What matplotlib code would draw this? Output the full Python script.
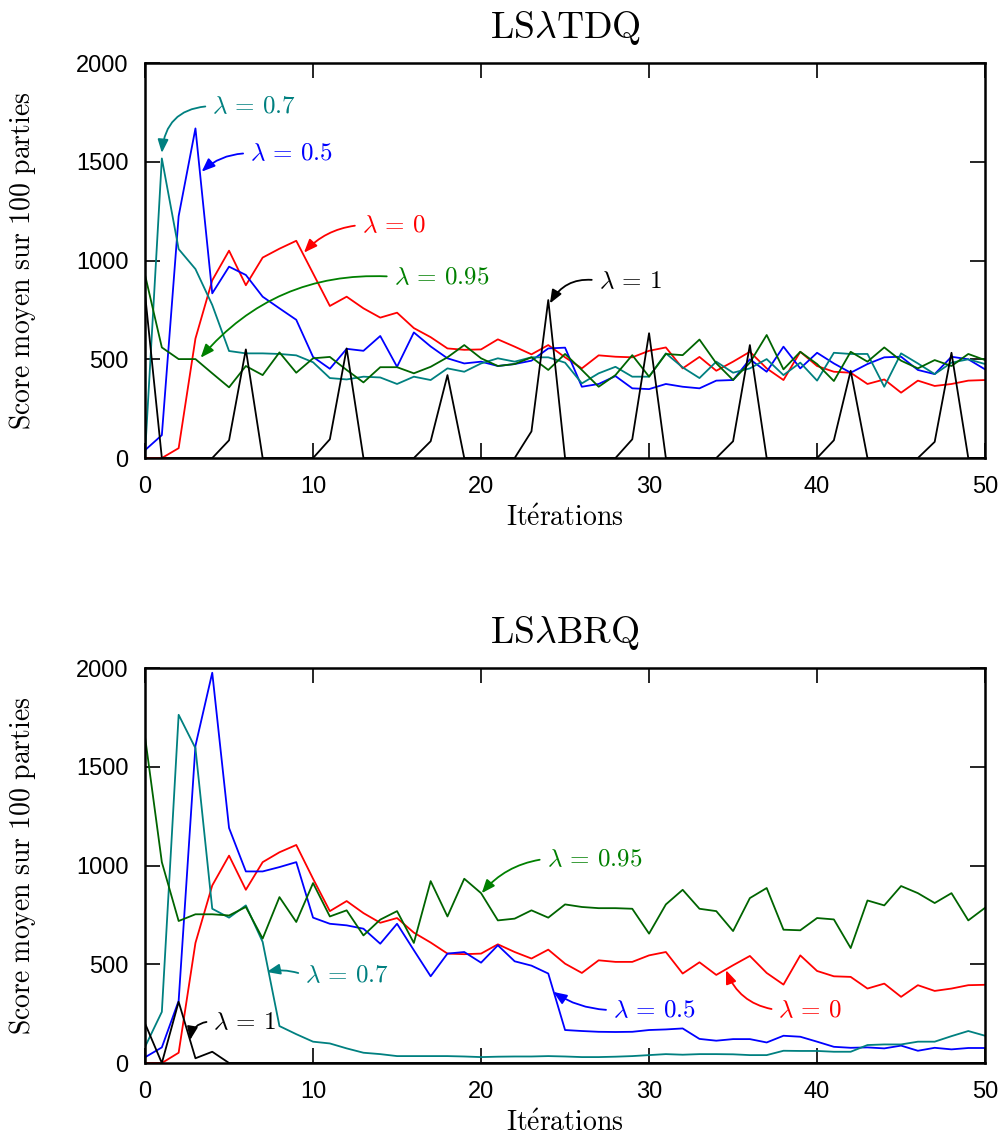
import matplotlib
matplotlib.use('Agg')
import matplotlib.pyplot as plt

plt.rcParams['font.family'] = ['Liberation Sans', 'DejaVu Sans']
plt.rcParams['mathtext.fontset'] = 'cm'

iterations = list(range(51))

# LSlambdaTDQ
tdq_l0 = [0, 0, 50, 605, 900, 1050, 875, 1015, 1060, 1100, 935, 770, 817, 758, 711, 736, 658, 612,
          555, 548, 550, 601, 564, 525, 572, 510, 454, 520, 513, 510, 543, 560, 454, 512, 442, 488,
          538, 454, 395, 538, 466, 437, 432, 375, 398, 331, 392, 365, 375, 392, 395]
tdq_l05 = [40, 116, 1225, 1669, 834, 969, 927, 817, 758, 700, 512, 452, 553, 543, 618, 462, 636, 565,
           505, 479, 488, 466, 476, 493, 555, 559, 361, 375, 415, 353, 349, 375, 361, 353, 392, 395,
           500, 437, 564, 454, 533, 479, 432, 476, 510, 513, 446, 425, 513, 500, 449]
tdq_l07 = [20, 1517, 1058, 957, 775, 542, 530, 530, 527, 520, 485, 405, 398, 412, 408, 375, 412, 395,
           454, 437, 479, 505, 488, 510, 510, 483, 378, 429, 462, 412, 412, 530, 459, 405, 488, 432,
           454, 501, 420, 483, 392, 533, 527, 527, 361, 530, 479, 425, 483, 500, 476]
tdq_l095 = [927, 560, 501, 501, 429, 358, 466, 420, 535, 432, 505, 512, 446, 383, 460, 460, 429, 462,
            510, 572, 505, 466, 476, 510, 446, 527, 446, 361, 420, 521, 412, 527, 521, 600, 480, 395,
            483, 623, 449, 538, 476, 390, 538, 488, 560, 493, 454, 496, 466, 527, 496]
tdq_l1 = [830, 0, 0, 0, 0, 90, 550, 0, 0, 0, 0, 95, 555, 0, 0, 0, 0, 85, 420, 0, 0, 0, 0, 135, 800,
          0, 0, 0, 0, 95, 632, 0, 0, 0, 0, 85, 572, 0, 0, 0, 0, 90, 442, 0, 0, 0, 0, 82, 533, 0, 0]

# LSlambdaBRQ
brq_l0 = [0, 0, 52, 608, 899, 1050, 877, 1017, 1067, 1104, 933, 769, 820, 759, 710, 734, 660, 610,
          554, 551, 554, 601, 562, 529, 574, 503, 456, 520, 512, 512, 545, 562, 453, 510, 446, 495,
          542, 456, 397, 545, 466, 439, 436, 377, 402, 335, 394, 365, 377, 394, 396]
brq_l05 = [29, 79, 315, 1606, 1976, 1190, 970, 970, 992, 1017, 736, 705, 697, 680, 604, 705, 571, 439,
           554, 562, 508, 596, 515, 493, 453, 167, 162, 158, 157, 158, 167, 170, 175, 122, 113, 121,
           121, 104, 138, 133, 108, 82, 77, 79, 74, 88, 62, 77, 69, 76, 76]
brq_l07 = [82, 259, 1763, 1594, 781, 736, 798, 613, 187, 146, 108, 99, 74, 52, 45, 35, 35, 35,
           35, 33, 30, 32, 33, 33, 35, 33, 30, 30, 32, 35, 40, 45, 42, 45, 45, 44,
           40, 40, 62, 61, 61, 57, 57, 91, 94, 94, 108, 108, 136, 162, 138]
brq_l095 = [1651, 1017, 719, 753, 753, 747, 790, 630, 840, 714, 911, 742, 773, 646, 726, 769, 608, 921,
            742, 933, 860, 722, 731, 773, 736, 803, 790, 784, 784, 781, 655, 803, 877, 781, 769, 668,
            835, 886, 675, 672, 734, 727, 582, 823, 798, 896, 860, 810, 860, 722, 786]
brq_l1 = [200, 0, 310, 24, 57] + [0] * 46

colors = {'0': '#ff0000', '0.5': '#0000ff', '0.7': '#008080', '0.95': '#006400', '1': '#000000'}
text_colors = {'0': '#ff0000', '0.5': '#0000ff', '0.7': '#008080', '0.95': '#008000', '1': '#000000'}
lambdas = ['0', '0.5', '0.7', '0.95', '1']

# annotation: lambda, text position, arrow tip, curvature
tdq_notes = [('0.7', (4.0, 1782), (1.0, 1545), 0.45),
             ('0.5', (6.25, 1543), (3.37, 1450), 0.2),
             ('0', (12.9, 1180), (9.46, 1040), 0.2),
             ('0.95', (14.8, 918), (3.31, 508), 0.25),
             ('1', (27.0, 898), (24.1, 783), 0.35)]
brq_notes = [('0.95', (23.9, 1034), (20.04, 860), 0.2),
             ('0.5', (27.85, 268), (24.3, 360), -0.15),
             ('0', (37.7, 268), (34.58, 470), -0.3),
             ('0.7', (9.52, 444), (7.24, 461), 0.15),
             ('1', (4.07, 209), (2.68, 116), 0.45)]

fig = plt.figure(figsize=(10.01, 11.38), dpi=100)
ax1 = fig.add_axes([0.1449, 0.5975, 0.8392, 0.3471])
ax2 = fig.add_axes([0.1449, 0.0659, 0.8392, 0.3471])


def draw_panel(ax, title, series, notes):
    for lam, ys in zip(lambdas, series):
        ax.plot(iterations, ys, color=colors[lam], lw=1.3)
    for lam, txt, tip, rad in notes:
        ax.annotate(r'$\lambda\,=\,%s$' % lam, xy=tip, xytext=txt,
                    ha='left', va='center', fontsize=18, color=text_colors[lam],
                    arrowprops=dict(arrowstyle='-|>,head_length=0.5,head_width=0.2',
                                    color=text_colors[lam], lw=1.3,
                                    mutation_scale=16, shrinkA=3, shrinkB=0,
                                    relpos=(0, 0.5),
                                    connectionstyle='arc3,rad=%s' % rad))
    ax.set_xlim(0, 50)
    ax.set_ylim(0, 2000)
    ax.set_xticks([0, 10, 20, 30, 40, 50])
    ax.set_yticks([0, 500, 1000, 1500, 2000])
    ax.tick_params(direction='in', length=11, width=1.2, top=True, right=True, labelsize=17)
    ax.tick_params(axis='x', pad=13)
    ax.tick_params(axis='y', pad=12)
    for sp in ax.spines.values():
        sp.set_linewidth(1.8)
    ax.set_title(title, fontsize=27, pad=18)
    ax.set_xlabel(r'$\mathrm{It\acute{e}rations}$', fontsize=20)
    ax.set_ylabel(r'$\mathrm{Score\ moyen\ sur\ 100\ parties}$', fontsize=20)
    ax.xaxis.set_label_coords(0.5, -0.118)
    ax.yaxis.set_label_coords(-0.128, 0.5)


draw_panel(ax1, r'$\mathrm{LS}\lambda\mathrm{TDQ}$',
           [tdq_l0, tdq_l05, tdq_l07, tdq_l095, tdq_l1], tdq_notes)
draw_panel(ax2, r'$\mathrm{LS}\lambda\mathrm{BRQ}$',
           [brq_l0, brq_l05, brq_l07, brq_l095, brq_l1], brq_notes)

fig.savefig('out.png', dpi=100)
plt.close(fig)
